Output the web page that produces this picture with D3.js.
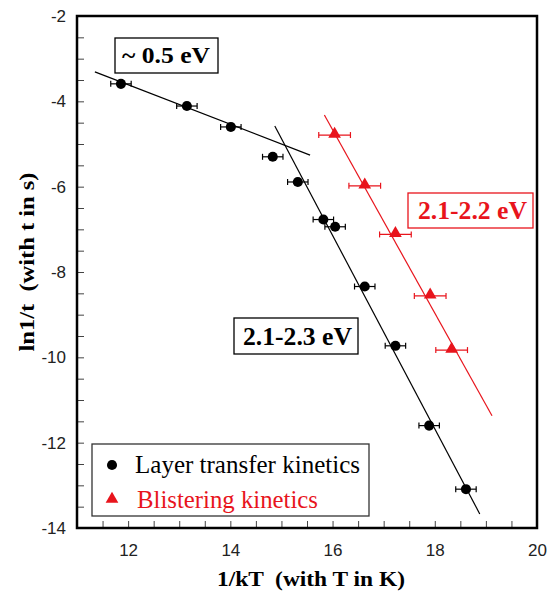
<!DOCTYPE html>
<html>
<head>
<meta charset="utf-8">
<script src="https://cdn.jsdelivr.net/npm/d3@7"></script>
<style>
	body { margin: 0; background: #fff; }
	svg { display: block; }
</style>
</head>
<body>
<div id="chart"></div>
<script>
// layer transfer kinetics (black circles)
const layerX = [11.86, 13.15, 14.01, 14.83, 15.32, 15.82, 16.05, 16.63, 17.23, 17.89, 18.61]
const layerY = [-3.59, -4.11, -4.60, -5.30, -5.89, -6.77, -6.94, -8.34, -9.73, -11.60, -13.09]
const layerErr = 0.2

// blistering kinetics (red triangles)
const blisterX = [16.04, 16.63, 17.23, 17.91, 18.33]
const blisterY = [-4.79, -5.98, -7.12, -8.56, -9.83]
const blisterErr = 0.31

// fitted lines, [x0, y0, x1, y1]
const fitLow = [11.35, -3.31, 15.56, -5.26]
const fitHigh = [14.87, -4.58, 18.88, -13.67]
const fitBlister = [15.84, -4.32, 19.12, -11.37]

const xTicks = [12, 14, 16, 18, 20]
const yTicks = [-2, -4, -6, -8, -10, -12, -14]

const width = 548, height = 593
const margin = { left: 77, top: 16, right: 11, bottom: 65 }
const red = '#e8141c'
const serif = "'Liberation Serif', 'Times New Roman', serif"

let svg = d3.select('#chart')
	.append('svg')
	.attr('width', width)
	.attr('height', height)

let x = d3.scaleLinear().domain([11, 20]).range([margin.left, width - margin.right])
let y = d3.scaleLinear().domain([-14, -2]).range([height - margin.bottom, margin.top])

// ticks point inward, minor every 0.5
let xAxis = d3.axisBottom(x).tickValues(d3.range(11, 20.01, 0.5))
	.tickSize(-7).tickFormat(d => xTicks.includes(d) ? d : '')
let yAxis = d3.axisLeft(y).tickValues(d3.range(-14, -1.99, 0.5))
	.tickSize(-7).tickFormat(d => yTicks.includes(d) ? d : '')

function styleAxis(g) {
	g.select('.domain').remove()
	g.selectAll('.tick line').attr('stroke', '#444').attr('stroke-width', 1)
	g.selectAll('.tick text')
		.attr('font-family', "'Liberation Sans', Arial, sans-serif")
		.attr('font-size', 17)
		.attr('fill', '#222')
}

svg.append('g')
	.attr('transform', `translate(0,${y(-14)})`)
	.call(xAxis)
	.call(styleAxis)
	.selectAll('.tick text').attr('dy', '1.45em')

svg.append('g')
	.attr('transform', `translate(${x(11)},0)`)
	.call(yAxis)
	.call(styleAxis)
	.selectAll('.tick text').attr('x', -11)

svg.append('rect')
	.attr('x', x(11)).attr('y', y(-2))
	.attr('width', x(20) - x(11)).attr('height', y(-14) - y(-2))
	.attr('fill', 'none').attr('stroke', '#000').attr('stroke-width', 2.5)

// axis titles
svg.append('text')
	.attr('x', 217).attr('y', 586)
	.attr('font-family', serif)
	.attr('font-weight', 'bold').attr('font-size', 20)
	.attr('xml:space', 'preserve')
	.attr('textLength', 188).attr('lengthAdjust', 'spacingAndGlyphs')
	.text('1/kT  (with T in K)')

svg.append('text')
	.attr('transform', 'translate(34,262) rotate(-90)')
	.attr('text-anchor', 'middle')
	.attr('font-family', serif)
	.attr('font-weight', 'bold').attr('font-size', 20)
	.attr('xml:space', 'preserve')
	.attr('textLength', 179).attr('lengthAdjust', 'spacingAndGlyphs')
	.text('ln1/t  (with t in s)')

// fit lines
function fitLine(f, color) {
	svg.append('line')
		.attr('x1', x(f[0])).attr('y1', y(f[1]))
		.attr('x2', x(f[2])).attr('y2', y(f[3]))
		.attr('stroke', color).attr('stroke-width', 1.2)
}
fitLine(fitLow, '#000')
fitLine(fitHigh, '#000')
fitLine(fitBlister, red)

// error bars
function errorBars(xs, ys, err, color) {
	let g = svg.append('g').attr('stroke', color).attr('stroke-width', 1.2)
	xs.forEach((xv, i) => {
		let yy = y(ys[i])
		g.append('line').attr('x1', x(xv - err)).attr('x2', x(xv + err)).attr('y1', yy).attr('y2', yy)
		g.append('line').attr('x1', x(xv - err)).attr('x2', x(xv - err)).attr('y1', yy - 3).attr('y2', yy + 3)
		g.append('line').attr('x1', x(xv + err)).attr('x2', x(xv + err)).attr('y1', yy - 3).attr('y2', yy + 3)
	})
}
errorBars(layerX, layerY, layerErr, '#000')
errorBars(blisterX, blisterY, blisterErr, red)

let circle = d3.symbol().type(d3.symbolCircle).size(80)
let triangle = d3.symbol().type(d3.symbolTriangle).size(70)

svg.append('g').selectAll('path')
	.data(layerX.map((d, i) => [d, layerY[i]]))
	.enter().append('path')
	.attr('transform', d => `translate(${x(d[0])},${y(d[1])})`)
	.attr('d', circle).attr('fill', '#000')

svg.append('g').selectAll('path')
	.data(blisterX.map((d, i) => [d, blisterY[i]]))
	.enter().append('path')
	.attr('transform', d => `translate(${x(d[0])},${y(d[1]) - 1})`)
	.attr('d', triangle).attr('fill', red)

// activation energy labels
function boxLabel(box, tx, ty, tw, size, label, color) {
	svg.append('rect')
		.attr('x', box[0]).attr('y', box[1]).attr('width', box[2]).attr('height', box[3])
		.attr('fill', '#fff').attr('stroke', color).attr('stroke-width', 1.3)
	svg.append('text')
		.attr('x', tx).attr('y', ty)
		.attr('font-family', serif)
		.attr('font-weight', 'bold').attr('font-size', size)
		.attr('fill', color)
		.attr('textLength', tw).attr('lengthAdjust', 'spacingAndGlyphs')
		.text(label)
}
boxLabel([115, 38, 103, 35], 122, 63, 88, 24, '~ 0.5 eV', '#000')
boxLabel([408, 193, 125, 35], 418, 219, 109, 25, '2.1-2.2 eV', red)
boxLabel([234, 318, 124, 36], 243, 345, 109, 25, '2.1-2.3 eV', '#000')

// legend
let legend = svg.append('g')
legend.append('rect')
	.attr('x', 92).attr('y', 444).attr('width', 277).attr('height', 72)
	.attr('fill', '#fff').attr('stroke', '#333').attr('stroke-width', 1.3)
let items = [
	{ label: 'Layer transfer kinetics', color: '#000', sym: circle, tx: 135, ty: 473, tw: 225, sy: 465 },
	{ label: 'Blistering kinetics', color: red, sym: triangle, tx: 137, ty: 508, tw: 181, sy: 499 }
]
items.forEach(it => {
	legend.append('path')
		.attr('transform', `translate(112,${it.sy})`)
		.attr('d', it.sym).attr('fill', it.color)
	legend.append('text')
		.attr('x', it.tx).attr('y', it.ty)
		.attr('font-family', serif)
		.attr('font-size', 25)
		.attr('fill', it.color)
		.attr('textLength', it.tw).attr('lengthAdjust', 'spacingAndGlyphs')
		.text(it.label)
})
</script>
</body>
</html>
